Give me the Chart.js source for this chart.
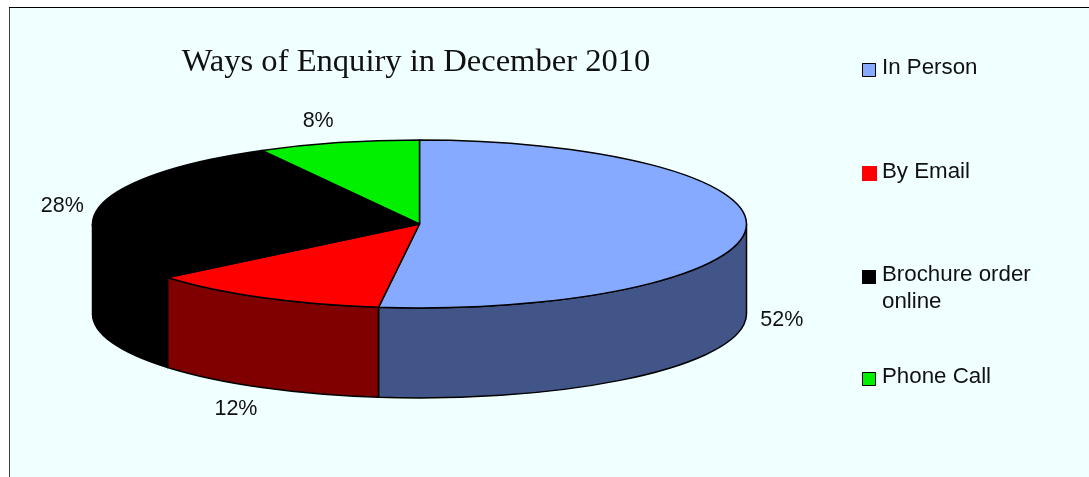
<!DOCTYPE html>
<html>
<head>
<meta charset="utf-8">
<style>
html, body { margin: 0; padding: 0; background: #fff; overflow: hidden; }
#wrap { position: absolute; left: 0; top: 0; width: 1089px; height: 477px; }
</style>
<script src="https://cdn.jsdelivr.net/npm/chart.js@4"></script>
</head>
<body>
<div id="wrap"><canvas id="js--chart" width="1089" height="477"></canvas></div>
<script>
const categories = ["In Person", "By Email", "Brochure order online", "Phone Call"];
const legendLines = [["In Person"], ["By Email"], ["Brochure order", "online"], ["Phone Call"]];
const percentages = [52, 12, 28, 8];
const topColors = ["#85AAFF", "#FF0000", "#000000", "#00F000"];
const sideColors = ["#425588", "#800000", "#000000", "#007800"];

// the pie is squashed into an ellipse with a wall under it
const pie = { x: 419.5, y: 224, rx: 327, ry: 84, depth: 90 };
const labelOffsets = [[36, 1], [-26, 21], [-36, -2], [-20, -22]];
const legendSpots = [67, 171, 274, 376];

function rimPath(ctx, a, b) {
    ctx.beginPath();
    ctx.moveTo(pie.x, pie.y);
    ctx.ellipse(pie.x, pie.y, pie.rx, pie.ry, 0, a, b);
    ctx.closePath();
}

const pie3d = {
    id: "pie3d",
    beforeDraw(chart) {
        const ctx = chart.ctx;
        ctx.save();
        ctx.fillStyle = "#F0FFFF";
        ctx.fillRect(9, 7, 1080, 470);
        ctx.fillStyle = "#404040";
        ctx.fillRect(9, 7, 1, 470);
        ctx.fillStyle = "#000";
        ctx.fillRect(9, 7, 1080, 1);
        ctx.restore();
    },
    beforeDatasetsDraw(chart) {
        const ctx = chart.ctx;
        const arcs = chart.getDatasetMeta(0).data;
        ctx.save();
        ctx.lineWidth = 1.5;
        ctx.strokeStyle = "#000";
        ctx.lineJoin = "round";

        // walls: only the part of each slice that faces front
        arcs.forEach(function (arc, i) {
            const a = Math.max(arc.startAngle, 0);
            const b = Math.min(arc.endAngle, Math.PI);
            if (b <= a) return;
            ctx.beginPath();
            ctx.ellipse(pie.x, pie.y, pie.rx, pie.ry, 0, a, b);
            ctx.ellipse(pie.x, pie.y + pie.depth, pie.rx, pie.ry, 0, b, a, true);
            ctx.closePath();
            ctx.fillStyle = sideColors[i];
            ctx.fill();
            ctx.stroke();
        });

        arcs.forEach(function (arc, i) {
            rimPath(ctx, arc.startAngle, arc.endAngle);
            ctx.fillStyle = topColors[i];
            ctx.fill();
            ctx.stroke();
        });

        // percentage labels sit outside the rim
        ctx.fillStyle = "#111";
        ctx.font = "21.5px 'Liberation Sans'";
        ctx.textAlign = "center";
        ctx.textBaseline = "middle";
        arcs.forEach(function (arc, i) {
            const mid = (arc.startAngle + arc.endAngle) / 2;
            let y = pie.y + pie.ry * Math.sin(mid);
            if (Math.sin(mid) > 0) y += pie.depth;
            const x = pie.x + pie.rx * Math.cos(mid);
            ctx.fillText(percentages[i] + "%", x + labelOffsets[i][0], y + labelOffsets[i][1]);
        });

        // legend
        ctx.textAlign = "left";
        ctx.font = "22.3px 'Liberation Sans'";
        legendLines.forEach(function (lines, i) {
            const y = legendSpots[i];
            ctx.fillStyle = topColors[i];
            if (i === 1) {
                ctx.fillRect(862, y - 5, 15, 15);
            } else {
                ctx.fillRect(862, y - 4, 14, 14);
                ctx.strokeStyle = "#000";
                ctx.lineWidth = 1;
                ctx.strokeRect(862.5, y - 3.5, 13, 13);
            }
            ctx.fillStyle = "#111";
            lines.forEach(function (line, n) {
                ctx.fillText(line, 882, y + 1 + n * 27);
            });
        });
        ctx.restore();
        return false;
    }
};

new Chart(document.getElementById("js--chart"), {
    type: "pie",
    data: {
        labels: categories,
        datasets: [{ data: percentages, backgroundColor: topColors, borderWidth: 0 }]
    },
    options: {
        responsive: false,
        animation: false,
        layout: { padding: { left: 10, right: 267, top: 43, bottom: 10 } },
        plugins: {
            legend: { display: false },
            tooltip: { enabled: false },
            title: {
                display: true,
                fullSize: false,
                text: "Ways of Enquiry in December 2010",
                color: "#111",
                font: { family: "'Liberation Serif'", size: 32.6, weight: "normal" },
                padding: 0
            }
        }
    },
    plugins: [pie3d]
});
</script>
</body>
</html>
